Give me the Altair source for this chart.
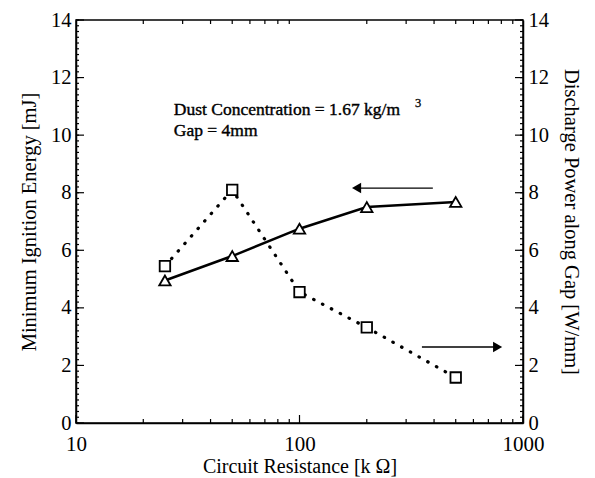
import altair as alt
import pandas as pd

resistance = [25, 50, 100, 200, 500]
mie = [4.95, 5.8, 6.75, 7.5, 7.68]
power = [5.45, 8.1, 4.55, 3.32, 1.58]

y_major = [0, 2, 4, 6, 8, 10, 12, 14]
y_minor = [round(i * 0.2, 1) for i in range(71)]
x_major = [10, 100, 1000]
x_minor = [20, 30, 40, 50, 60, 70, 80, 90, 200, 300, 400, 500, 600, 700, 800, 900]

W, H = 447, 403
FONT = "Liberation Serif"

xscale = alt.Scale(type="log", domain=[10, 1000])
yscale = alt.Scale(domain=[0, 14], nice=False, zero=False)

df1 = pd.DataFrame({"R": resistance, "E": mie})
df2 = pd.DataFrame({"R": resistance, "P": power})

xaxis = alt.Axis(values=x_major, format="d", title="Circuit Resistance [k Ω]",
                 labelPadding=10, titlePadding=2, labelFlush=False, labelFontSize=21,
                 titleFontSize=20)
X = alt.X("R:Q", scale=xscale, axis=xaxis)

left_axis = alt.Axis(values=y_major, title="Minimum Ignition Energy [mJ]",
                     labelPadding=5, titlePadding=11, labelFontSize=20.5)
right_axis = alt.Axis(values=y_major, orient="right", title="Discharge Power along Gap [W/mm]",
                      labelPadding=5, titlePadding=12, labelFontSize=20.5)

line1 = alt.Chart(df1).mark_line(color="black", strokeWidth=2.5).encode(
    x=X, y=alt.Y("E:Q", scale=yscale, axis=left_axis))
pts1 = alt.Chart(df1).mark_point(shape="triangle-up", size=130, filled=False,
                                 fill="white", fillOpacity=1, stroke="black",
                                 strokeWidth=1.8, opacity=1).encode(
    x=alt.X("R:Q", scale=xscale, axis=xaxis), y=alt.Y("E:Q", scale=yscale, axis=left_axis))

line2 = alt.Chart(df2).mark_line(color="black", strokeWidth=3.2, strokeDash=[0.5, 9.5],
                                 strokeCap="round").encode(
    x=alt.X("R:Q", scale=xscale, axis=xaxis), y=alt.Y("P:Q", scale=yscale, axis=right_axis))
pts2 = alt.Chart(df2).mark_point(shape="square", size=110, filled=False,
                                 fill="white", fillOpacity=1, stroke="black",
                                 strokeWidth=1.8, opacity=1).encode(
    x=alt.X("R:Q", scale=xscale, axis=xaxis), y=alt.Y("P:Q", scale=yscale, axis=right_axis))

ymaj = pd.DataFrame({"v": y_major})
ymin = pd.DataFrame({"v": y_minor})
xmaj = pd.DataFrame({"v": x_major})
xmin = pd.DataFrame({"v": x_minor})

def yticks(df, length, side):
    if side == "left":
        xx, xx2 = 0, length
    else:
        xx, xx2 = W, W - length
    return alt.Chart(df).mark_rule(color="black", strokeWidth=1.2).encode(
        y=alt.Y("v:Q", scale=yscale, axis=left_axis), x=alt.value(xx), x2=alt.value(xx2))

def xticks(df, length, side):
    if side == "bottom":
        yy, yy2 = H, H - length
    else:
        yy, yy2 = 0, length
    return alt.Chart(df).mark_rule(color="black", strokeWidth=1.2).encode(
        x=alt.X("v:Q", scale=xscale, axis=xaxis), y=alt.value(yy), y2=alt.value(yy2))

ticks = [yticks(ymaj, 8, "left"), yticks(ymin, 3, "left"),
         yticks(ymaj, 8, "right"), yticks(ymin, 3, "right"),
         xticks(xmaj, 8, "bottom"), xticks(xmin, 4, "bottom"),
         xticks(xmin, 4, "top")]

ann_text = pd.DataFrame({"R": [27.4, 27.4], "y": [10.87, 10.14],
                         "t": ["Dust Concentration = 1.67 kg/m", "Gap = 4mm"]})
texts = alt.Chart(ann_text).mark_text(align="left", baseline="middle", font=FONT,
                                      fontSize=17.5, color="black",
                                      stroke="black", strokeWidth=0.4).encode(
    x=alt.X("R:Q", scale=xscale, axis=xaxis), y=alt.Y("y:Q", scale=yscale, axis=left_axis),
    text="t:N")
sup = alt.Chart(pd.DataFrame({"R": [329], "y": [11.13], "t": ["3"]})).mark_text(
    align="left", baseline="middle", font=FONT, fontSize=12.5, color="black",
    stroke="black", strokeWidth=0.3).encode(
    x=alt.X("R:Q", scale=xscale, axis=xaxis), y=alt.Y("y:Q", scale=yscale, axis=left_axis),
    text="t:N")

arrow_x1 = [395, 353]
arrow_x2 = [180, 770]
arrow_y = [8.16, 2.64]
arr = pd.DataFrame({"x1": arrow_x1, "x2": arrow_x2, "y": arrow_y,
                    "shape": ["triangle-left", "triangle-right"]})
shafts = alt.Chart(arr).mark_rule(color="black", strokeWidth=1.3).encode(
    x=alt.X("x1:Q", scale=xscale, axis=xaxis), x2="x2:Q",
    y=alt.Y("y:Q", scale=yscale, axis=left_axis))
heads = alt.Chart(arr).mark_point(filled=True, color="black", size=110, opacity=1).encode(
    x=alt.X("x2:Q", scale=xscale, axis=xaxis), y=alt.Y("y:Q", scale=yscale, axis=left_axis),
    shape=alt.Shape("shape:N", scale=None))

left = alt.layer(line1, pts1, *ticks, texts, sup, shafts, heads)
right = alt.layer(line2, pts2)

chart = alt.layer(left, right).resolve_scale(y="independent").properties(
    width=W, height=H,
    padding={"left": 76, "top": 20, "right": 72, "bottom": 55},
    autosize=alt.AutoSizeParams(type="none"),
    background="white",
).configure_view(stroke="black", strokeWidth=1.5).configure_axis(
    labelFont=FONT, labelColor="black",
    titleFont=FONT, titleFontSize=20.5, titleFontWeight="normal", titleColor="black",
    ticks=False, grid=False, domainColor="black", domainWidth=1.5,
)

chart.save("out.html", embed_options={"renderer": "svg", "actions": False})
